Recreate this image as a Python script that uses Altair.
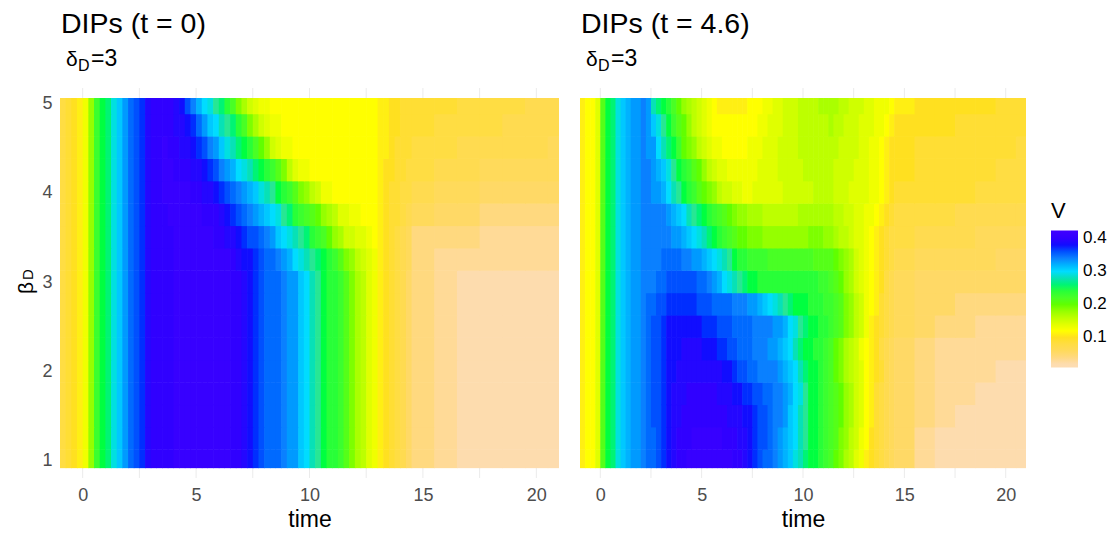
import altair as alt
import pandas as pd

# column edges (time) and row edges (beta_D)
time_edges = [-1 + 0.25 * i for i in range(63)] + [15.5, 16.5, 17.5, 18.5, 19.5, 20.5, 21]
beta_edges = [0.92, 1.125, 1.375, 1.625, 1.875, 2.125, 2.375, 2.625, 2.875, 3.125, 3.375, 3.625, 3.875, 4.125, 4.375, 4.625, 4.875, 5.056]

# V x 100; the rise at small t looks the same in every row
rise_a = [8, 9, 10, 11, 13, 18, 23, 25, 26, 29, 31, 33, 35, 36, 37, 39, 40, 40]
low_a = [40, 40, 41, 41, 41, 41, 41, 41, 41, 41, 41, 41, 40, 40, 39, 38, 37, 36, 35, 35,
         35, 34, 33, 33, 31, 30, 28, 27, 25, 24, 24, 23, 21, 19, 17, 16, 14, 13, 11, 10,
         9, 8, 7, 5, 4, 3, 2, 2, 2, 2, 2]
rows_a = [
    low_a, low_a, low_a, low_a, low_a, low_a, low_a, low_a, low_a,
    [40, 40, 41, 41, 41, 41, 41, 41, 41, 41, 41, 41, 40, 39, 38, 38, 37, 36, 35, 35,
     34, 33, 32, 30, 29, 28, 27, 26, 25, 24, 23, 21, 19, 18, 16, 15, 14, 13, 11, 10,
     9, 8, 7, 6, 4, 3, 3, 3, 3, 3, 3],
    [40, 40, 41, 41, 41, 41, 41, 41, 41, 40, 40, 39, 39, 38, 37, 36, 36, 35, 34, 33,
     31, 30, 29, 28, 27, 26, 24, 23, 22, 20, 18, 17, 15, 15, 14, 14, 13, 12, 11, 10,
     9, 8, 7, 6, 4, 4, 4, 3, 3, 3, 3],
    [40, 41, 41, 41, 41, 41, 41, 40, 40, 40, 39, 38, 37, 36, 35, 34, 33, 32, 31, 30,
     29, 27, 26, 24, 23, 22, 21, 20, 18, 17, 16, 14, 14, 13, 13, 12, 12, 12, 11, 10,
     9, 9, 8, 7, 6, 5, 5, 4, 4, 4, 4],
    [41, 41, 41, 41, 41, 40, 40, 39, 39, 38, 37, 36, 35, 34, 33, 32, 31, 29, 28, 27,
     25, 24, 23, 21, 19, 18, 16, 15, 13, 13, 12, 12, 12, 12, 12, 12, 12, 12, 11, 10,
     9, 9, 8, 8, 7, 6, 6, 5, 5, 5, 5],
    [41, 41, 40, 40, 40, 39, 39, 38, 37, 36, 34, 33, 32, 30, 29, 28, 26, 25, 24, 23,
     21, 19, 16, 14, 13, 13, 12, 12, 12, 12, 12, 12, 12, 12, 12, 12, 12, 12, 11, 10,
     10, 9, 9, 8, 8, 7, 7, 6, 6, 6, 6],
    [41, 40, 40, 39, 39, 38, 37, 36, 34, 33, 31, 29, 28, 26, 25, 24, 22, 20, 18, 15,
     14, 13, 13, 12, 12, 12, 12, 12, 12, 12, 12, 12, 12, 12, 12, 12, 12, 12, 11, 11,
     10, 9, 9, 9, 8, 8, 7, 7, 7, 7, 6],
    [40, 40, 39, 39, 38, 37, 35, 33, 31, 30, 28, 27, 26, 24, 22, 19, 17, 15, 14, 13,
     13, 12, 12, 12, 12, 12, 12, 12, 12, 12, 12, 12, 12, 12, 12, 12, 12, 12, 11, 11,
     10, 10, 9, 9, 9, 8, 8, 8, 7, 7, 7],
    [40, 40, 39, 38, 36, 34, 32, 30, 29, 27, 26, 24, 22, 19, 17, 15, 14, 13, 13, 12,
     12, 12, 12, 12, 12, 12, 12, 12, 12, 12, 12, 12, 12, 12, 12, 12, 12, 12, 11, 11,
     10, 10, 9, 9, 9, 9, 8, 8, 8, 7, 7],
]
rise_b = [11, 12, 12, 14, 21, 25, 26, 29, 31, 32, 33, 33, 34]
rows_b = [
    [35, 35, 36, 37, 38, 39, 40, 40, 41, 41, 41, 41, 41, 41, 41, 41, 41, 40, 40, 39,
     38, 37, 36, 35, 35, 34, 33, 32, 31, 29, 28, 26, 25, 25, 24, 23, 22, 20, 19, 17,
     16, 14, 13, 11, 10, 9, 8, 7, 6, 5, 3, 2, 2, 2, 2, 2],
    [35, 35, 36, 37, 38, 39, 40, 40, 40, 41, 41, 41, 41, 41, 41, 40, 40, 40, 39, 39,
     38, 37, 36, 36, 35, 34, 33, 32, 31, 30, 28, 27, 25, 25, 24, 23, 22, 21, 19, 18,
     16, 15, 13, 12, 10, 9, 8, 7, 6, 5, 3, 2, 2, 2, 2, 2],
    [35, 36, 36, 37, 38, 39, 39, 40, 40, 40, 40, 40, 40, 40, 40, 40, 39, 39, 39, 38,
     38, 37, 36, 36, 35, 34, 34, 33, 31, 30, 28, 27, 25, 25, 24, 23, 22, 21, 20, 18,
     17, 15, 14, 12, 11, 9, 8, 7, 6, 5, 4, 3, 2, 2, 2, 2],
    [35, 36, 36, 37, 38, 39, 39, 39, 40, 40, 40, 40, 40, 40, 39, 39, 39, 38, 38, 37,
     37, 36, 36, 35, 35, 34, 34, 33, 32, 30, 29, 27, 25, 25, 24, 23, 22, 21, 20, 18,
     17, 15, 14, 12, 11, 9, 8, 7, 6, 5, 4, 3, 3, 2, 2, 2],
    [35, 36, 36, 37, 38, 38, 39, 39, 39, 39, 39, 39, 39, 39, 39, 38, 38, 37, 36, 36,
     35, 35, 34, 34, 34, 34, 33, 32, 31, 30, 28, 26, 25, 25, 24, 23, 22, 20, 19, 17,
     16, 15, 14, 12, 11, 10, 9, 7, 6, 5, 4, 3, 3, 3, 2, 2],
    [35, 36, 36, 37, 38, 38, 38, 39, 39, 39, 39, 38, 38, 38, 37, 37, 36, 36, 35, 35,
     35, 34, 34, 34, 33, 33, 32, 31, 30, 28, 26, 25, 25, 24, 24, 23, 22, 20, 19, 17,
     16, 15, 13, 12, 11, 10, 8, 7, 6, 5, 4, 3, 3, 3, 3, 3],
    [35, 36, 36, 37, 38, 38, 38, 38, 38, 38, 38, 37, 37, 37, 36, 36, 36, 35, 35, 35,
     35, 34, 34, 34, 34, 33, 33, 32, 30, 29, 27, 26, 25, 25, 24, 24, 23, 22, 21, 19,
     18, 16, 15, 13, 11, 10, 9, 8, 7, 6, 5, 4, 4, 3, 3, 3],
    [35, 35, 36, 36, 37, 37, 37, 37, 37, 37, 36, 36, 36, 35, 35, 35, 35, 34, 34, 34,
     33, 33, 32, 31, 30, 29, 28, 27, 26, 25, 25, 25, 24, 24, 24, 23, 23, 22, 21, 19,
     18, 16, 15, 13, 12, 11, 9, 8, 7, 6, 5, 5, 4, 4, 4, 4],
    [34, 34, 35, 35, 36, 36, 36, 36, 36, 36, 35, 35, 34, 33, 32, 30, 29, 28, 27, 26,
     25, 25, 24, 24, 24, 24, 24, 24, 24, 24, 24, 24, 24, 24, 23, 23, 22, 21, 20, 18,
     17, 15, 14, 13, 12, 11, 10, 8, 7, 6, 5, 5, 5, 5, 5, 5],
    [34, 34, 34, 35, 35, 35, 35, 34, 34, 33, 33, 32, 31, 30, 29, 28, 27, 25, 24, 24,
     23, 23, 23, 23, 22, 22, 22, 22, 22, 22, 22, 22, 22, 21, 21, 21, 21, 20, 19, 18,
     17, 15, 14, 13, 12, 11, 10, 9, 8, 7, 6, 6, 6, 6, 5, 5],
    [34, 34, 34, 34, 34, 33, 33, 32, 31, 30, 29, 28, 26, 25, 24, 23, 22, 21, 20, 20,
     19, 19, 19, 18, 18, 18, 18, 18, 18, 18, 18, 18, 19, 19, 19, 18, 18, 17, 16, 16,
     15, 14, 14, 13, 12, 11, 10, 9, 8, 8, 7, 7, 7, 6, 6, 6],
    [34, 34, 34, 34, 33, 32, 31, 30, 28, 27, 26, 25, 24, 23, 22, 21, 20, 19, 18, 18,
     17, 17, 17, 16, 16, 16, 16, 16, 16, 16, 17, 17, 17, 17, 17, 17, 17, 16, 16, 15,
     15, 14, 14, 13, 13, 12, 11, 10, 9, 8, 8, 8, 7, 7, 7, 7],
    [34, 33, 33, 32, 30, 28, 27, 25, 24, 23, 21, 20, 19, 18, 16, 15, 15, 14, 14, 13,
     13, 14, 14, 14, 14, 14, 14, 15, 15, 15, 15, 15, 15, 16, 16, 16, 16, 15, 15, 15,
     14, 14, 14, 14, 13, 13, 12, 11, 10, 9, 9, 9, 9, 8, 8, 8],
    [34, 33, 32, 31, 29, 27, 25, 24, 23, 21, 20, 18, 16, 15, 14, 14, 13, 13, 13, 13,
     13, 13, 14, 14, 14, 14, 15, 15, 15, 15, 15, 16, 16, 16, 16, 16, 16, 15, 15, 15,
     15, 14, 14, 14, 13, 13, 12, 11, 10, 10, 9, 9, 9, 9, 8, 8],
    [33, 33, 30, 28, 26, 25, 23, 20, 19, 18, 16, 15, 14, 13, 13, 12, 12, 12, 12, 12,
     13, 13, 13, 14, 14, 14, 15, 15, 15, 15, 16, 16, 16, 16, 16, 16, 16, 16, 15, 15,
     15, 15, 14, 14, 13, 13, 12, 11, 10, 10, 9, 9, 9, 9, 9, 8],
    [33, 31, 29, 27, 25, 23, 21, 20, 18, 16, 15, 14, 13, 12, 12, 12, 12, 12, 12, 12,
     12, 12, 13, 13, 14, 14, 14, 15, 15, 15, 16, 16, 16, 16, 16, 16, 17, 16, 16, 15,
     15, 15, 14, 14, 14, 13, 13, 12, 11, 10, 10, 10, 9, 9, 9, 9],
    [33, 28, 26, 25, 24, 22, 20, 18, 17, 16, 15, 14, 13, 12, 11, 11, 11, 11, 11, 11,
     12, 12, 12, 13, 13, 14, 14, 15, 15, 15, 16, 16, 16, 16, 17, 17, 17, 17, 16, 16,
     15, 15, 15, 14, 14, 13, 13, 13, 12, 11, 10, 10, 10, 10, 9, 9],
]

color_stops = [0.009, 0.02, 0.05, 0.10, 0.12, 0.20, 0.25, 0.275, 0.30, 0.34, 0.375, 0.40, 0.424]
color_range = ["#FDDDB4", "#FDDCAE", "#FFD966", "#FFE020", "#FFFF00", "#60FF00", "#00FF40", "#40E0A0",
               "#00DCFF", "#0A80FF", "#0010FF", "#3000FF", "#4000FF"]
x_ticks = [0, 5, 10, 15, 20]
grid_x = [0, 2.5, 5, 7.5, 10, 12.5, 15, 17.5, 20]
y_ticks = [1, 2, 3, 4, 5]
legend_ticks = [0.1, 0.2, 0.3, 0.4]
legend_tick_px = [250, 216, 183, 151]

TEXT = "#000000"
GREY = "#4D4D4D"
H = 390
TOP = 87


def long_table(rise, rows):
    # each rect runs very slightly into its neighbour so no seams show
    out = []
    for r, row in enumerate(rows):
        values = rise + row
        for c, v in enumerate(values):
            out.append({"t0": time_edges[c], "t1": min(time_edges[c + 1] + 0.03, 21),
                        "b0": beta_edges[r], "b1": min(beta_edges[r + 1] + 0.006, beta_edges[-1]), "v": v / 100})
    return pd.DataFrame(out)


def text_layer(label, px, py, size, angle=0):
    return alt.Chart(pd.DataFrame({"s": [label]})).mark_text(
        align="left", baseline="alphabetic", fontSize=size, color=TEXT, angle=angle
    ).encode(text="s:N", x=alt.value(px), y=alt.value(py))


legend = alt.Legend(title="V", type="gradient", orient="none", legendX=991, legendY=112.5, gradientLength=137,
                    gradientThickness=27, values=legend_ticks, labelFontSize=17, titleFontSize=22,
                    titleFontWeight="normal", titleColor=TEXT, labelColor=TEXT, labelOffset=5,
                    format=".1f", titlePadding=8)


def panel(rise, rows, width, title, show_y):
    xs = alt.Scale(domain=[-1, 21], zero=False, nice=False)
    ys = alt.Scale(domain=[0.81, 5.168], zero=False, nice=False)
    cs = alt.Scale(domain=color_stops, range=color_range)
    grid = alt.Chart(pd.DataFrame({"g": grid_x})).mark_rule(color="#EBEBEB", strokeWidth=1).encode(
        x=alt.X("g:Q", scale=xs, axis=alt.Axis(
            values=x_ticks, title="time", grid=False, ticks=False, domain=False,
            labelFontSize=18, labelColor=GREY, labelPadding=8, titleFontSize=23,
            titleColor=TEXT, titleFontWeight="normal", titlePadding=4, format="d")))
    heat = alt.Chart(long_table(rise, rows)).mark_rect().encode(
        x=alt.X("t0:Q", scale=xs),
        x2="t1:Q",
        y=alt.Y("b0:Q", scale=ys, axis=alt.Axis(
            values=y_ticks, title=None, grid=False, ticks=False, domain=False,
            labels=show_y, labelFontSize=18, labelColor=GREY, labelPadding=8, format="d")),
        y2="b1:Q",
        color=alt.Color("v:Q", scale=cs, legend=legend),
    )
    layers = [grid, heat,
              text_layer(title, 1, 32 - TOP, 28.5),
              text_layer("δ", 6, 65 - TOP, 21),
              text_layer("D", 18, 70 - TOP, 16),
              text_layer("=3", 31, 65 - TOP, 23)]
    if show_y:
        layers += [text_layer("β", 33 - 60, 293 - TOP, 21, 270),
                   text_layer("D", 33 - 60, 279 - TOP, 15, 270)]
    return layers


left = alt.layer(*panel(rise_a, rows_a, 499, "DIPs (t = 0)", True)).properties(width=499, height=H)

tick_layers = []
for px in legend_tick_px:
    for x0 in (471, 493):
        tick_layers.append(alt.Chart(pd.DataFrame({"p": [px]})).mark_rule(color="white", strokeWidth=1).encode(
            x=alt.value(x0), x2=alt.value(x0 + 5), y=alt.value(px)))
right = alt.layer(*panel(rise_b, rows_b, 446, "DIPs (t = 4.6)", False), *tick_layers).properties(width=446, height=H)

chart = alt.hconcat(left, right, spacing=21, padding={"left": 8, "top": 2, "right": 0, "bottom": 0}).configure(
    font="Liberation Sans").configure_view(stroke=None)
chart.save("out.html", embed_options={"renderer": "svg", "actions": False})
